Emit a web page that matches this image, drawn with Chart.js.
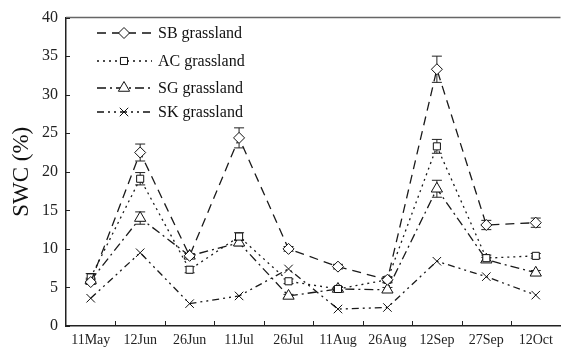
<!DOCTYPE html>
<html>
<head>
<meta charset="utf-8">
<script src="https://cdn.jsdelivr.net/npm/chart.js@4"></script>
<style>
  html, body { margin: 0; padding: 0; background: #fff; overflow: hidden; }
  #wrap { width: 568px; height: 351px; position: relative; }
</style>
</head>
<body>
<div id="wrap"><canvas id="swc"></canvas></div>
<script>
// sampling dates
const dates = ["11May", "12Jun", "26Jun", "11Jul", "26Jul", "11Aug", "26Aug", "12Sep", "27Sep", "12Oct"];

// soil water content (%) per grassland
const sbValues = [5.7, 22.5, 9.1, 24.4, 10.0, 7.7, 6.0, 33.3, 13.1, 13.4];
const acValues = [6.3, 19.1, 7.3, 11.6, 5.8, 4.8, 6.0, 23.3, 8.8, 9.1];
const sgValues = [5.9, 14.0, 9.1, 10.8, 3.9, 4.8, 4.7, 17.8, 8.6, 6.9];
const skValues = [3.6, 9.5, 2.9, 3.9, 7.4, 2.2, 2.4, 8.4, 6.4, 4.0];

// standard errors
const sbErr = [0.3, 1.1, 0.3, 1.3, 0.3, 0.3, 0.3, 1.7, 0.6, 0.6];
const acErr = [0.5, 0.8, 0.4, 0.5, 0.3, 0.3, 0.4, 0.9, 0.4, 0.3];
const sgErr = [0.3, 0.8, 0.3, 0.4, 0.2, 0.2, 0.3, 1.1, 0.3, 0.3];
const skErr = [0, 0, 0, 0, 0, 0, 0, 0, 0, 0];

const yTicks = [0, 5, 10, 15, 20, 25, 30, 35, 40];

const serif = "'Liberation Serif', 'DejaVu Serif', serif";

const series = [
  { label: "SB grassland", data: sbValues, err: sbErr, dash: [9, 6], point: "rectRot", r: 5.5 },
  { label: "AC grassland", data: acValues, err: acErr, dash: [2, 4], point: "rect", r: 5 },
  { label: "SG grassland", data: sgValues, err: sgErr, dash: [9, 4, 2, 4], point: "triangle", r: 6.5 },
  { label: "SK grassland", data: skValues, err: skErr, dash: [7, 4, 2, 4, 2, 4], point: "crossRot", r: 6 },
];

const datasets = series.map((s) => ({
  label: s.label,
  data: s.data,
  err: s.err,
  borderColor: "#1a1a1a",
  borderWidth: 1.3,
  borderDash: s.dash,
  pointStyle: s.point,
  pointRadius: s.r,
  pointBorderWidth: 1,
  pointBorderColor: "#111",
  pointBackgroundColor: "#fff",
  tension: 0,
  fill: false,
}));

// error bars, inward ticks, top border, legend
const decor = {
  id: "decor",
  beforeDatasetsDraw(chart) {
    const ctx = chart.ctx;
    const x = chart.scales.x;
    const y = chart.scales.y;
    const area = chart.chartArea;
    ctx.save();
    ctx.strokeStyle = "#222";
    ctx.lineWidth = 1;
    chart.data.datasets.forEach((ds) => {
      ds.data.forEach((v, i) => {
        const e = ds.err[i];
        if (!e) return;
        const px = x.getPixelForValue(i);
        const top = y.getPixelForValue(v + e);
        const bot = y.getPixelForValue(v - e);
        ctx.beginPath();
        ctx.moveTo(px, top);
        ctx.lineTo(px, bot);
        ctx.moveTo(px - 5, top);
        ctx.lineTo(px + 5, top);
        ctx.moveTo(px - 5, bot);
        ctx.lineTo(px + 5, bot);
        ctx.stroke();
      });
    });
    // top frame line
    ctx.strokeStyle = "#666";
    ctx.lineWidth = 1.5;
    ctx.beginPath();
    ctx.moveTo(area.left, area.top);
    ctx.lineTo(area.right, area.top);
    ctx.stroke();
    // inward ticks
    ctx.strokeStyle = "#222";
    ctx.lineWidth = 1;
    ctx.beginPath();
    yTicks.forEach((t) => {
      const py = Math.round(y.getPixelForValue(t)) + 0.5;
      ctx.moveTo(area.left, py);
      ctx.lineTo(area.left + 4, py);
    });
    for (let i = 1; i < dates.length; i++) {
      const px = Math.round((x.getPixelForValue(i - 1) + x.getPixelForValue(i)) / 2) + 0.5;
      ctx.moveTo(px, area.bottom);
      ctx.lineTo(px, area.bottom - 5);
    }
    ctx.stroke();
    ctx.restore();
  },
  afterDatasetsDraw(chart) {
    const ctx = chart.ctx;
    const rows = [33, 61, 88, 112];
    ctx.save();
    chart.data.datasets.forEach((ds, i) => {
      const ly = rows[i];
      ctx.strokeStyle = "#111";
      ctx.lineWidth = 1.3;
      ctx.setLineDash(ds.borderDash);
      ctx.beginPath();
      ctx.moveTo(97, ly);
      ctx.lineTo(152, ly);
      ctx.stroke();
      ctx.setLineDash([]);
      ctx.fillStyle = "#fff";
      ctx.lineWidth = 1;
      Chart.helpers.drawPoint(ctx, {
        pointStyle: ds.pointStyle,
        radius: ds.pointRadius,
        borderWidth: 1,
        rotation: 0,
      }, 124, ly);
      ctx.fillStyle = "#111";
      ctx.font = "16px " + serif;
      ctx.textBaseline = "middle";
      ctx.fillText(ds.label, 158, ly + 1);
    });
    ctx.restore();
  },
};

Chart.defaults.font.family = serif;
Chart.defaults.color = "#222";

new Chart(document.getElementById("swc"), {
  type: "line",
  data: { labels: dates, datasets: datasets },
  options: {
    responsive: true,
    maintainAspectRatio: false,
    animation: false,
    layout: { padding: { top: 14, right: 0, left: 0, bottom: 0 } },
    plugins: { legend: { display: false }, tooltip: { enabled: false } },
    scales: {
      x: {
        type: "category",
        offset: true,
        grid: { display: false, drawTicks: false },
        border: { display: true, color: "#222", width: 1.5 },
        ticks: { font: { size: 14 }, padding: 6, maxRotation: 0, autoSkip: false, color: "#222" },
        afterFit: (s) => { s.height = 25; },
      },
      y: {
        min: 0,
        max: 40,
        grid: { display: false, drawTicks: false },
        border: { display: true, color: "#222", width: 1.5 },
        ticks: { stepSize: 5, font: { size: 16 }, padding: 8, color: "#222" },
        title: { display: true, text: "SWC (%)", font: { size: 23 }, color: "#111", padding: { top: 8, bottom: 0 } },
        afterFit: (s) => { s.width = 66; },
      },
    },
  },
  plugins: [decor],
});
</script>
</body>
</html>
